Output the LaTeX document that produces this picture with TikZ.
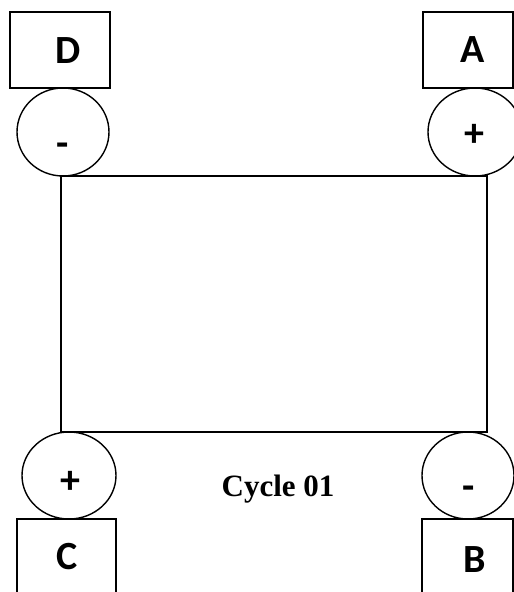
\documentclass[tikz,border=0pt]{standalone}
\usepackage{fontspec}
\setmainfont{Liberation Serif}
\newfontfamily\calib{Carlito}
\usetikzlibrary{shapes.geometric}
\begin{document}
\begin{tikzpicture}[x=1pt,y=-1pt,line width=1.4pt,
  termbox/.style={draw,rectangle,inner sep=0pt},
  pole/.style={draw,ellipse,inner sep=0pt},
  letter/.style={font=\calib\bfseries\fontsize{40}{42}\selectfont,inner sep=0pt},
  sign/.style={font=\calib\bfseries\fontsize{40}{42}\selectfont,inner sep=0pt}]
\useasboundingbox (0,0) rectangle (514,592);
\clip (0,0) rectangle (514,592);
% main rectangle
\node[termbox,minimum width=426pt,minimum height=256pt] (main) at (274,304) {};
% terminal boxes
\node[termbox,minimum width=100pt,minimum height=76pt] (boxD) at (60,50) {};
\node[termbox,minimum width=90pt,minimum height=76pt] (boxA) at (468,50) {};
\node[termbox,minimum width=99pt,minimum height=82pt] (boxC) at (66.5,560) {};
\node[termbox,minimum width=91pt,minimum height=82pt] (boxB) at (467.5,560) {};
% poles
\node[pole,minimum width=92pt,minimum height=88pt] (poleD) at (63,132) {};
\node[pole,minimum width=94pt,minimum height=88pt] (poleA) at (475,132) {};
\node[pole,minimum width=94pt,minimum height=87pt] (poleC) at (69,475.5) {};
\node[pole,minimum width=92pt,minimum height=87pt] (poleB) at (468,475.5) {};
% letters
\node[letter] (tD) at (68,51) {D};
\node[letter] (tA) at (473,50) {A};
\node[letter] (tC) at (67,557) {C};
\node[letter] (tB) at (475,560) {B};
% signs
\node[sign] (sD) at (63,150) {-};
\node[sign] (sA) at (474,135) {+};
\node[sign] (sC) at (70,482) {+};
\node[sign] (sB) at (469,493) {-};
% caption
\node[font=\bfseries\fontsize{31}{34}\selectfont,inner sep=0pt] (cap) at (278,489) {Cycle 01};
\end{tikzpicture}
\end{document}
